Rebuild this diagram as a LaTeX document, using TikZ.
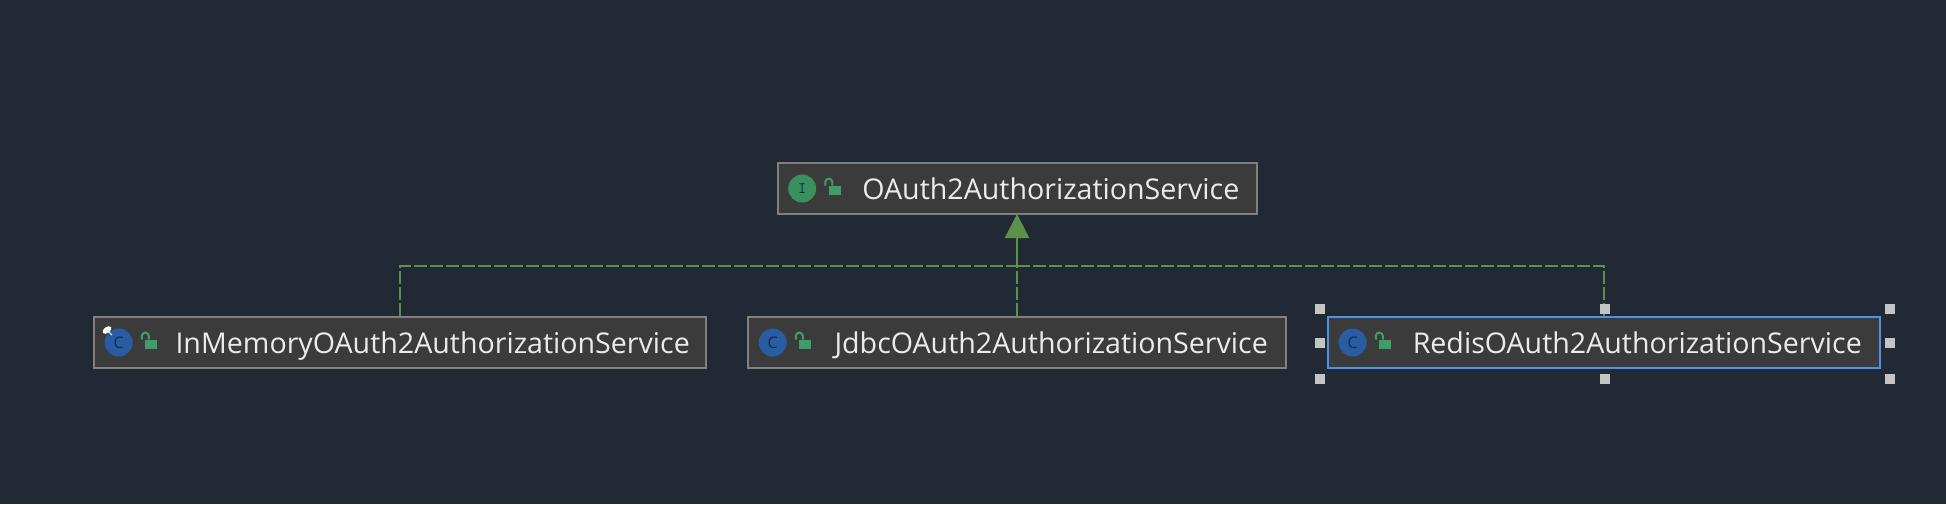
\documentclass[tikz,border=0pt]{standalone}
\usepackage{fontspec}
\setmainfont{Open Sans}
\usepackage{xcolor}
\usetikzlibrary{shapes.geometric, arrows.meta, positioning, calc}
\definecolor{canvas}{HTML}{212A34}
\definecolor{boxfill}{HTML}{3C3B3B}
\definecolor{boxline}{HTML}{808080}
\definecolor{selectline}{HTML}{4E92E6}
\definecolor{edgegreen}{HTML}{5B9148}
\definecolor{ifacegreen}{HTML}{3A8F5F}
\definecolor{classblue}{HTML}{2A5CA3}
\definecolor{lockgreen}{HTML}{3F9E68}
\definecolor{letterdark}{HTML}{14294D}
\definecolor{handlegray}{HTML}{C4C4C4}
\begin{document}
\begin{tikzpicture}[
    x=1pt, y=-1pt,
    box/.style={rectangle, draw=boxline, line width=2pt, fill=boxfill, minimum height=51pt, inner sep=0pt},
    classname/.style={inner sep=0pt, text height=22pt, text depth=0pt, text=white!92!black, font=\fontsize{28.6}{32}\selectfont},
    badge/.style={circle, minimum size=28pt, inner sep=0pt, text=letterdark},
    lockbody/.style={rectangle, fill=lockgreen, minimum width=12pt, minimum height=9.5pt, inner sep=0pt},
    lockarc/.style={draw=lockgreen, line width=2pt},
    handle/.style={rectangle, fill=handlegray, minimum size=10pt, inner sep=0pt},
    implements/.style={edgegreen, line width=2.4pt, dash pattern=on 13pt off 3pt},
    arr/.style={-{Triangle[length=24pt, width=24pt]}, edgegreen, line width=2.4pt, shorten >=-1pt},
  ]
    \useasboundingbox[fill=canvas] (0,0) rectangle (1946,504);
    % class boxes
    \node[box, minimum width=479pt] (service) at (1017,188.5) {};
    \node[box, minimum width=612pt] (inmemory) at (400,342.5) {};
    \node[box, minimum width=538pt] (jdbc) at (1017,342.5) {};
    \node[box, minimum width=552pt, draw=selectline] (redis) at (1604,342.5) {};
    \node[classname, left=18pt of service.east] (servicename) {OAuth2AuthorizationService};
    \node[classname, left=17pt of inmemory.east] (inmemoryname) {InMemoryOAuth2AuthorizationService};
    \node[classname, left=19pt of jdbc.east] (jdbcname) {JdbcOAuth2AuthorizationService};
    \node[classname, left=19pt of redis.east] (redisname) {RedisOAuth2AuthorizationService};
    % icons
    \foreach \cname/\cletter/\ccolor in {inmemory/C/classblue, jdbc/C/classblue, redis/C/classblue, service/{\ttfamily I}/ifacegreen} {
      \node[badge, fill=\ccolor, font=\fontsize{16}{16}\selectfont, right=11.5pt of \cname.west] (\cname badge) {\cletter};
      \node[lockbody] (\cname lock) at ($(\cname.west)+(58,2)$) {};
      \draw[lockarc] ($(\cname lock.north west)+(-3,0)$) -- ++(0,-3.5) arc[start angle=180, end angle=0, radius=3.5pt] -- ++(0,3.5);
    }
    % pin on the first badge
    \node[ellipse, fill=white, minimum width=10pt, minimum height=6pt, inner sep=0pt, rotate=35] (pin) at (107,330) {};
    \coordinate (pintip) at (112,335);
    \draw[white, line width=1pt] (pin.center) -- (pintip);
    % connectors
    \coordinate (bus) at (1017,266);
    \draw[implements] (inmemory.north) |- (bus);
    \draw[implements] (redis.north) |- (bus);
    \draw[implements] (jdbc.north) -- (bus);
    \draw[arr] (bus) -- (service.south);
    % selection handles
    \foreach \hname/\hanchor/\hx/\hy in {nw/north west/-7/-7.5, n/north/1/-7.5, ne/north east/9/-7.5, w/west/-7/0.5, e/east/9/0.5, sw/south west/-7/9.5, s/south/1/9.5, se/south east/9/9.5} {
      \node[handle] (handle\hname) at ($(redis.\hanchor)+(\hx,\hy)$) {};
    }
  \end{tikzpicture}
\end{document}
